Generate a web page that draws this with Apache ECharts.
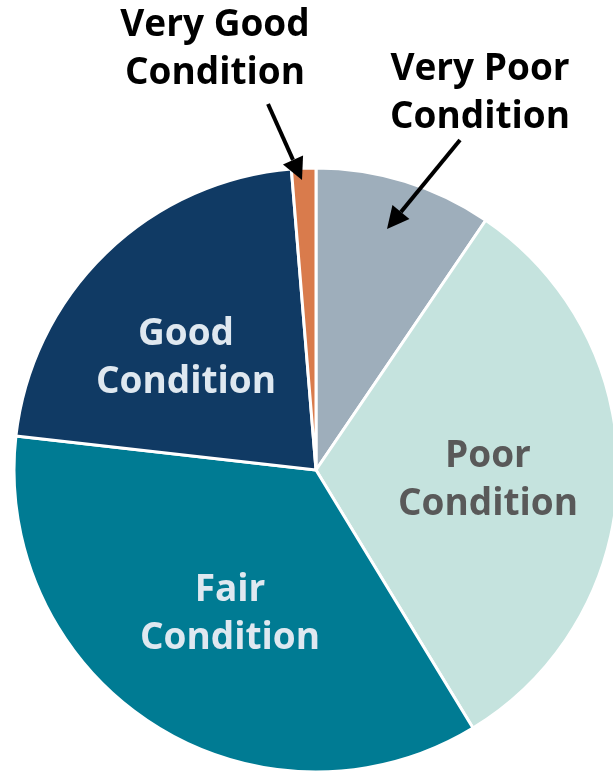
<!DOCTYPE html>
<html>
<head>
<meta charset="utf-8">
<script src="https://cdn.jsdelivr.net/npm/echarts@6/dist/echarts.min.js"></script>
<style>
  html, body { margin: 0; padding: 0; background: #fff; }
  #chart { width: 613px; height: 773px; }
</style>
</head>
<body>
<div id="chart"></div>
<script>
// data (percent of total)
var categories = ["Very Poor Condition", "Poor Condition", "Fair Condition", "Good Condition", "Very Good Condition"];
var values = [9.5, 31.8, 35.5, 21.9, 1.3];
var colors = ["#9eaebb", "#c5e3de", "#007b93", "#103a64", "#d97b4c"];

var chart = echarts.init(document.getElementById("chart"), null, { renderer: "canvas" });

var font = "'Open Sans', 'Noto Sans', sans-serif";

function label(text, x, y, color) {
  return {
    type: "text",
    x: x,
    y: y,
    z: 100,
    style: {
      text: text.replace(" Condition", "\nCondition"),
      fill: color,
      font: "bold 37px " + font,
      lineHeight: 48,
      align: "center",
      verticalAlign: "middle"
    }
  };
}

function arrow(x1, y1, x2, y2) {
  // line plus triangle head at (x2, y2)
  var ang = Math.atan2(y2 - y1, x2 - x1);
  var len = 22, half = 11;
  var bx = x2 - len * Math.cos(ang), by = y2 - len * Math.sin(ang);
  var px = -Math.sin(ang) * half, py = Math.cos(ang) * half;
  return [
    { type: "line", z: 100, shape: { x1: x1, y1: y1, x2: bx, y2: by }, style: { stroke: "#000", lineWidth: 4 } },
    { type: "polygon", z: 100, shape: { points: [[x2, y2], [bx + px, by + py], [bx - px, by - py]] }, style: { fill: "#000" } }
  ];
}

var option = {
  animation: false,
  series: [
    {
      type: "pie",
      center: [316, 470],
      radius: 302,
      startAngle: 90,
      clockwise: true,
      label: { show: false },
      labelLine: { show: false },
      itemStyle: { borderColor: "#fff", borderWidth: 3 },
      data: categories.map(function (c, i) {
        return { name: c, value: values[i], itemStyle: { color: colors[i] } };
      })
    }
  ],
  graphic: [
    label(categories[4], 215, 49, "#000"),
    label(categories[0], 480, 93, "#000"),
    label(categories[3], 186, 358, "#dfe8f0"),
    label(categories[1], 488, 480, "#595959"),
    label(categories[2], 230, 614, "#dfe8f0")
  ].concat(arrow(268, 104, 302, 180), arrow(460, 140, 387, 229))
};

chart.setOption(option);
</script>
</body>
</html>
